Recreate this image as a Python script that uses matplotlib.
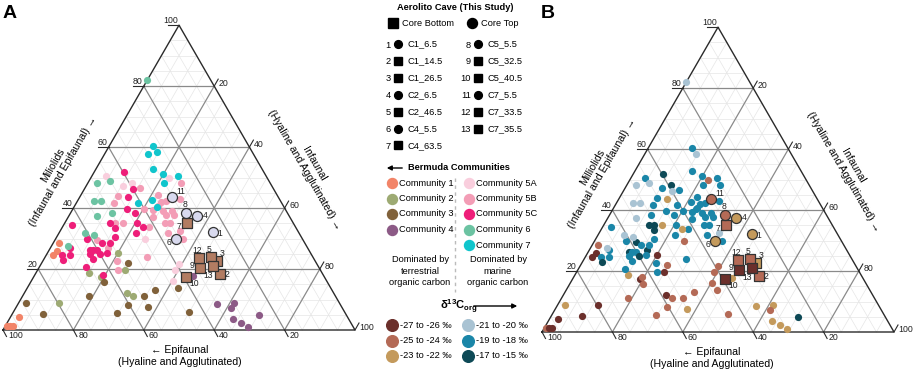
import numpy as np
import matplotlib.pyplot as plt

plt.rcParams['font.family'] = ['Liberation Sans', 'DejaVu Sans']
plt.rcParams['mathtext.fontset'] = 'custom'
plt.rcParams['mathtext.rm'] = 'Liberation Sans:bold'
plt.rcParams['mathtext.it'] = 'Liberation Sans:bold'
plt.rcParams['mathtext.bf'] = 'Liberation Sans:bold'
plt.rcParams['mathtext.default'] = 'rm'
LEG_FS = 6.7

######################## data: % Miliolids, % Infaunal, d13C class
# d13C class: 0=-27..-26, 1=-25..-24, 2=-23..-22, 3=-21..-20, 4=-19..-18, 5=-17..-15, -1 = no value
c1_mil = [28.5, 26.0, 24.6, 4.3, 1.3, 1.3, 1.3]
c1_inf = [1.6, 2.3, 1.9, 2.4, 0.5, 1.35, 2.2]
c1_d13 = [1, 0, 0, 0, 1, 0, 0]

c2_mil = [25.2, 18.7, 17.4, 19.7, 12.1, 11.1, 8.9]
c2_inf = [20.1, 15.1, 19.1, 24.9, 29.2, 31.4, 11.5]
c2_d13 = [0, 2, 0, 0, 0, 1, 0]

c3_mil = [22.0, 15.7, 13.1, 13.8, 11.1, 11.1, 8.2, 7.5, 5.6, 5.9, 8.9, 5.2]
c3_inf = [24.5, 20.8, 36.6, 42.8, 34.5, 18.8, 31.4, 37.4, 29.6, 49.9, 2.1, 8.8]
c3_d13 = [1, 1, 1, 1, 1, 1, 1, 2, 1, 1, 2, 0]

c4_mil = [17.7, 8.5, 8.9, 7.2, 3.6, 2.3, 1.0, 4.9]
c4_inf = [45.1, 56.5, 61.2, 61.2, 63.5, 66.5, 69.1, 70.3]
c4_d13 = [2, 2, 2, 1, 2, 2, 2, 5]

c5a_mil = [50.5, 49.8, 47.2, 48.2, 29.8, 21.6, 19.7, 16.1]
c5a_inf = [4.0, 22.3, 10.5, 12.5, 25.4, 39.2, 39.0, 40.2]
c5a_d13 = [4, 1, 4, 5, 1, 1, 1, 1]

c5b_mil = [48.2, 46.6, 44.3, 43.0, 42.0, 42.3, 43.9, 41.6, 39.7, 39.3, 39.0, 39.0, 37.7, 37.7, 37.0,
           35.1, 35.1, 33.8, 35.1, 35.1, 32.5, 29.8, 29.5, 26.9, 23.9, 22.6, 19.7, 40.7, 31.8]
c5b_inf = [26.5, 15.6, 21.9, 28.8, 23.9, 25.1, 10.7, 10.7, 20.2, 22.9, 26.0, 28.5, 27.5, 29.7, 24.1,
           14.3, 16.6, 24.6, 29.9, 28.5, 34.1, 36.2, 12.0, 16.4, 29.0, 21.1, 22.9, 23.7, 31.0]
c5b_d13 = [4, 4, 4, 4, 4, 4, 4, 4, 4, 4, 4, 4, 4, 4, 4,
           5, 2, 4, 4, 4, 3, 4, 5, 5, 4, 4, 4, 4, 4]

c5c_mil = [51.8, 46.2, 43.6, 39.7, 38.4, 35.1, 33.4, 35.1, 33.8, 34.4, 29.8, 28.5, 28.5, 30.5,
           31.8, 26.9, 24.6, 24.6, 23.0, 26.2, 26.2, 26.2, 24.9, 24.9, 23.3, 25.2, 20.7, 18.0]
c5c_inf = [8.5, 13.8, 13.7, 15.4, 18.3, 12.9, 15.1, 20.5, 22.9, 2.4, 9.0, 13.9, 16.2, 16.6,
           21.9, 5.6, 4.5, 6.7, 5.5, 11.6, 12.5, 13.6, 12.3, 15.1, 13.9, 16.9, 13.2, 19.4]
c5c_d13 = [5, 3, 2, 4, 4, 5, 5, 4, 2, 4, 4, 4, 4, 4,
           4, 4, 4, 4, 5, 5, 4, 4, 4, 5, 4, 4, 4, 1]

c6_mil = [82.0, 48.2, 48.9, 42.3, 42.3, 37.4, 38.4, 31.8, 31.1, 27.5]
c6_inf = [0.0, 2.6, 6.0, 4.7, 6.7, 8.0, 11.8, 7.4, 10.3, 4.7]
c6_d13 = [3, 3, 3, 3, 3, 3, 4, 3, 3, 3]

c7_mil = [60.3, 57.7, 58.4, 52.8, 51.1, 50.5, 48.2, 42.6, 41.6, 40.3]
c7_inf = [12.4, 12.3, 14.5, 16.2, 19.9, 24.5, 21.6, 21.0, 17.6, 23.6]
c7_d13 = [4, -1, 3, 4, 4, 4, 4, 4, 4, 4]

# Aerolito Cave samples
aer_names = ['C1_6.5', 'C1_14.5', 'C1_26.5', 'C2_6.5', 'C2_46.5', 'C4_5.5', 'C4_63.5',
             'C5_5.5', 'C5_32.5', 'C5_40.5', 'C7_5.5', 'C7_33.5', 'C7_35.5']
aer_top = [True, False, False, True, False, True, False, True, False, False, True, False, False]
aer_mil = [32.1, 18.4, 22.6, 37.4, 23.9, 29.8, 35.1, 38.4, 20.3, 17.4, 43.6, 23.6, 21.0]
aer_inf = [43.6, 52.4, 49.5, 36.4, 47.1, 34.2, 34.7, 32.8, 45.8, 43.3, 26.2, 43.9, 49.2]
aer_d13 = [2, 1, 2, 2, 1, 2, 1, 1, 0, 0, 1, 1, 0]

comm_names = ['Community 1', 'Community 2', 'Community 3', 'Community 4',
              'Community 5A', 'Community 5B', 'Community 5C', 'Community 6', 'Community 7']
comm_cols = ['#F28468', '#9DAA73', '#80613A', '#8C5A86',
             '#F9CEDD', '#F39DB6', '#EE1E79', '#6CC3A2', '#10C5CC']
d13_labels = ['-27 to -26 \u2030', '-25 to -24 \u2030', '-23 to -22 \u2030',
              '-21 to -20 \u2030', '-19 to -18 \u2030', '-17 to -15 \u2030']
d13_cols = ['#6B2F2B', '#B46A56', '#C49A5C', '#A9C3D3', '#1A86A8', '#0D4956']

comms = [(c1_mil, c1_inf, c1_d13), (c2_mil, c2_inf, c2_d13), (c3_mil, c3_inf, c3_d13),
         (c4_mil, c4_inf, c4_d13), (c5a_mil, c5a_inf, c5a_d13), (c5b_mil, c5b_inf, c5b_d13),
         (c5c_mil, c5c_inf, c5c_d13), (c6_mil, c6_inf, c6_d13), (c7_mil, c7_inf, c7_d13)]

# label offsets (px) for the sample numbers
lab_dx = [7, 7, 5, 8, -2, -7, -8, -1, -8, 8, 9, -2, -5]
lab_dy = [1, 1, -8, 0, -8, 3, 3, -8, -3, 7, -6, -8, 10]

SQ = np.sqrt(3) / 2
W = 352


def tern(m, i, ox, oy):
    m = np.asarray(m, dtype=float) / 100
    i = np.asarray(i, dtype=float) / 100
    return ox + W * (i + m / 2), oy - W * SQ * m


def seg(ax, p, q, ox, oy, **kw):
    x, y = tern([p[0], q[0]], [p[1], q[1]], ox, oy)
    ax.plot(x, y, **kw)


def frame(ax, ox, oy, tdx, miltitle):
    for v in range(5, 100, 5):
        if v % 20 == 0:
            kw = dict(color='#8a8a8a', lw=0.9, zorder=1)
        else:
            kw = dict(color='#e6e6e6', lw=0.5, zorder=0.5)
        seg(ax, (v, 0), (v, 100 - v), ox, oy, **kw)
        seg(ax, (0, v), (100 - v, v), ox, oy, **kw)
        seg(ax, (0, 100 - v), (100 - v, 0), ox, oy, **kw)
    x, y = tern([0, 100, 0, 0], [0, 0, 100, 0], ox, oy)
    ax.plot(x, y, color='#2a2a2a', lw=1.0, zorder=2)
    for v in (20, 40, 60, 80, 100):
        # Miliolids (left)
        x, y = tern(v, 0, ox, oy)
        ax.plot([x - 11, x], [y, y], color='#2a2a2a', lw=0.8)
        ax.text(x - 1, y - 0.5, str(v), ha='right', va='bottom', fontsize=6.3, color='#222222')
        # Infaunal (right)
        x, y = tern(100 - v, v, ox, oy)
        ax.plot([x, x + 4], [y, y - 7], color='#2a2a2a', lw=0.8)
        ax.text(x + 4.5, y - 3, str(v), ha='left', va='center', fontsize=6.3, color='#222222')
        # Epifaunal (bottom)
        x, y = tern(0, 100 - v, ox, oy)
        ax.plot([x, x + 3.5], [y, y + 6.5], color='#2a2a2a', lw=0.8)
        ax.text(x + 5, y + 6, str(v), ha='left', va='center', fontsize=6.3, color='#222222')
    ax.text(ox + 55, oy - 162, miltitle + '\n(Infaunal and Epifaunal) \u2192', rotation=60,
            ha='center', va='center', multialignment='center', fontsize=7.6, linespacing=1.15,
            rotation_mode='anchor')
    ax.text(ox + 306, oy - 163, 'Infaunal\n(Hyaline and Agglutinated) \u2192', rotation=-60,
            ha='center', va='center', multialignment='center', fontsize=7.6, linespacing=1.15,
            rotation_mode='anchor')
    ax.text(ox + tdx, oy + 26, '\u2190 Epifaunal\n(Hyaline and Agglutinated)',
            ha='center', va='center', multialignment='center', fontsize=7.6, linespacing=1.2)


fig = plt.figure(figsize=(9.13, 3.71), dpi=100)
ax = fig.add_axes([0, 0, 1, 1])
ax.set_xlim(0, 913)
ax.set_ylim(371, 0)
ax.axis('off')

# ---- panel A : communities
oxA, oyA = 3, 330
frame(ax, oxA, oyA, 177, 'Miliolids')
for (mil, inf, _), col in zip(comms, comm_cols):
    x, y = tern(mil, inf, oxA, oyA)
    ax.scatter(x, y, s=27, color=col, lw=0, zorder=3)

# ---- panel B : d13C
oxB, oyB = 542, 332
frame(ax, oxB, oyB, 170, 'Milliolids')
for mil, inf, d13 in comms:
    for m, i, d in zip(mil, inf, d13):
        if d < 0:
            continue
        x, y = tern(m, i, oxB, oyB)
        ax.scatter(x, y, s=27, color=d13_cols[d], lw=0, zorder=3)

# ---- Aerolito samples on both panels
for ox, oy, panel in ((oxA, oyA, 'A'), (oxB, oyB, 'B')):
    for k in range(len(aer_names)):
        x, y = tern(aer_mil[k], aer_inf[k], ox, oy)
        if panel == 'A':
            fc = '#D8D9EE' if aer_top[k] else '#B27C62'
        else:
            fc = d13_cols[aer_d13[k]]
        ax.scatter(x, y, s=52 if aer_top[k] else 46, marker='o' if aer_top[k] else 's',
                   facecolor=fc, edgecolor='#333333', lw=0.9, zorder=4)
        ax.text(x + lab_dx[k], y + lab_dy[k], str(k + 1), ha='center', va='center',
                fontsize=6.2, color='#222222', zorder=5)

ax.text(3, 13, 'A', fontsize=14, fontweight='bold', va='center', ha='left')
ax.text(541, 14, 'B', fontsize=14, fontweight='bold', va='center', ha='left')

# ---- middle legend
ax.text(455, 7, 'Aerolito Cave (This Study)', ha='center', va='center', fontsize=LEG_FS,
        fontweight='bold')
ax.plot(393, 23, 's', ms=6.5, color='black')
ax.text(402, 23, 'Core Bottom', va='center', fontsize=LEG_FS)
ax.plot(472, 23, 'o', ms=7.2, color='black')
ax.text(481, 23, 'Core Top', va='center', fontsize=LEG_FS)
for k, name in enumerate(aer_names):
    col = 0 if k < 7 else 1
    row = k if k < 7 else k - 7
    y = 44 + 16.9 * row
    xn = 391 if col == 0 else 471
    ax.text(xn, y + 1, str(k + 1), ha='right', va='center', fontsize=LEG_FS)
    ax.plot(xn + 7, y, 'o' if aer_top[k] else 's', ms=5.6 if aer_top[k] else 5.2, color='black')
    ax.text(xn + 16, y, name, va='center', fontsize=LEG_FS)

ax.annotate('', xy=(384, 168), xytext=(405, 168),
            arrowprops=dict(arrowstyle='-|>', color='black', lw=1.0, mutation_scale=7))
ax.text(408, 168, 'Bermuda Communities', va='center', fontsize=LEG_FS, fontweight='bold')
for k, (name, col) in enumerate(zip(comm_names, comm_cols)):
    if k < 4:
        x, y = 392, 183 + 15.5 * k
    else:
        x, y = 469, 183 + 15.5 * (k - 4)
    ax.plot(x, y, 'o', ms=7.2, color=col)
    ax.text(x + 7, y, name, va='center', fontsize=LEG_FS)
ax.plot([455, 455], [178, 292], color='#bbbbbb', lw=1, ls=(0, (2.5, 2.5)))
ax.text(420, 271, 'Dominated by\nterrestrial\norganic carbon', ha='center', va='center',
        fontsize=LEG_FS, linespacing=1.3)
ax.text(498, 271, 'Dominated by\nmarine\norganic carbon', ha='center', va='center',
        fontsize=LEG_FS, linespacing=1.3)

ax.text(440, 307, r'$\delta^{13}C_{org}$', va='center', fontsize=8.0)
ax.annotate('', xy=(520, 306), xytext=(471, 306),
            arrowprops=dict(arrowstyle='-|>', color='black', lw=1.0, mutation_scale=7))
for k, (lab, col) in enumerate(zip(d13_labels, d13_cols)):
    if k < 3:
        x, y = 392, 325 + 15.5 * k
    else:
        x, y = 468, 325 + 15.5 * (k - 3)
    ax.plot(x, y, 'o', ms=8.4, color=col)
    ax.text(x + 8, y, lab, va='center', fontsize=LEG_FS)

fig.savefig('out.png', dpi=100, facecolor='white')
